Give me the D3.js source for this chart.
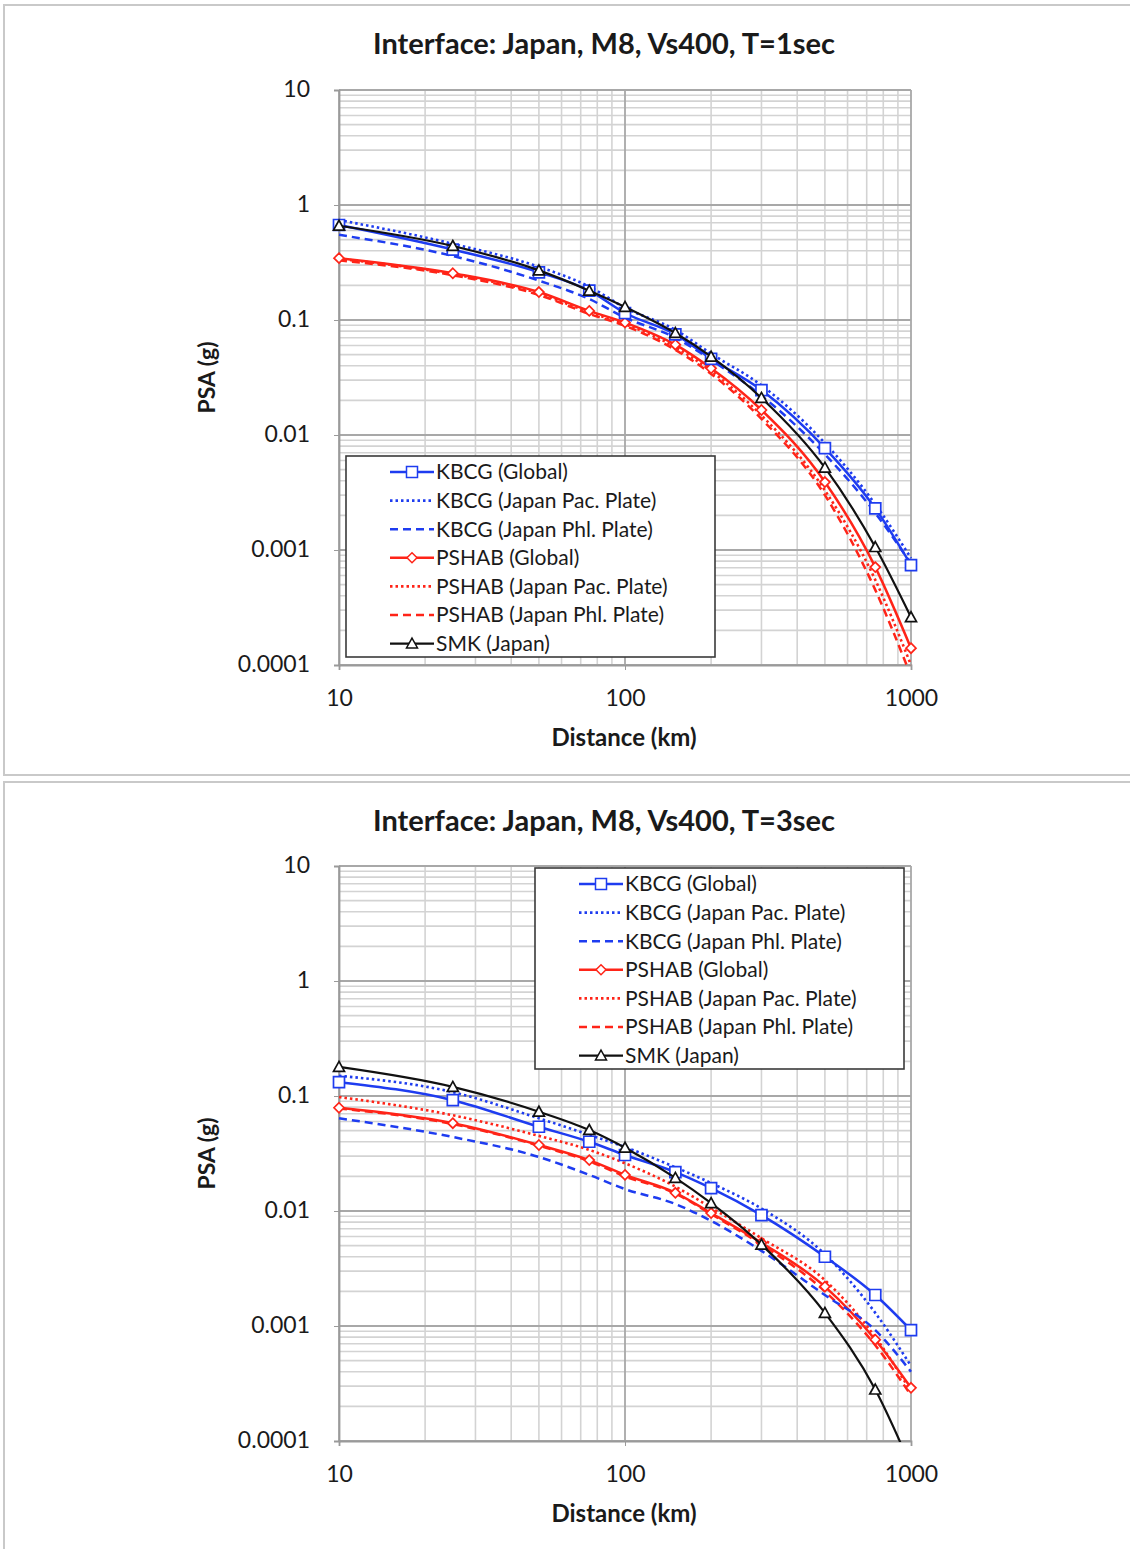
<!DOCTYPE html>
<html><head><meta charset="utf-8">
<script src="https://cdn.jsdelivr.net/npm/d3@7/dist/d3.min.js"></script>
<style>
body{margin:0;background:#fff;}
svg text{font-family:Lato,"Open Sans",sans-serif;fill:#1a1a1a;}
</style></head>
<body><svg id="c" width="1130" height="1549"></svg>
<script>
const distances = [10, 25, 50, 75, 100, 150, 200, 300, 500, 750, 1000];
const seriesNames = ["KBCG (Global)", "KBCG (Japan Pac. Plate)", "KBCG (Japan Phl. Plate)",
  "PSHAB (Global)", "PSHAB (Japan Pac. Plate)", "PSHAB (Japan Phl. Plate)", "SMK (Japan)"];
const yTickValues = [10, 1, 0.1, 0.01, 0.001, 0.0001];
const yTickLabels = ["10", "1", "0.1", "0.01", "0.001", "0.0001"];
const xTickValues = [10, 100, 1000];
const xTickLabels = ["10", "100", "1000"];
const titles = ["Interface: Japan, M8, Vs400, T=1sec", "Interface: Japan, M8, Vs400, T=3sec"];

// T = 1 sec
const kbcgGlobal1 = [0.67, 0.41, 0.26, 0.18, 0.115, 0.075, 0.046, 0.0246, 0.0077, 0.0023, 0.00074];
const kbcgPac1    = [0.74, 0.46, 0.29, 0.195, 0.128, 0.082, 0.051, 0.027, 0.0085, 0.0025, 0.00085];
const kbcgPhl1    = [0.55, 0.36, 0.22, 0.152, 0.105, 0.07, 0.045, 0.022, 0.0068, 0.0021, 0.00076];
const pshabGlobal1= [0.345, 0.255, 0.175, 0.12, 0.095, 0.061, 0.038, 0.0165, 0.0039, 0.00071, 0.00014];
const pshabPac1   = [0.34, 0.25, 0.17, 0.117, 0.092, 0.058, 0.036, 0.0148, 0.0033, 0.00055, 0.0001];
const pshabPhl1   = [0.33, 0.245, 0.165, 0.113, 0.089, 0.055, 0.034, 0.0138, 0.003, 0.00045, 0.00008];
const smk1        = [0.66, 0.44, 0.27, 0.18, 0.13, 0.077, 0.048, 0.021, 0.0052, 0.00106, 0.00026];

// T = 3 sec
const kbcgGlobal3 = [0.132, 0.092, 0.054, 0.040, 0.0307, 0.0218, 0.0158, 0.0092, 0.0040, 0.00186, 0.00092];
const kbcgPac3    = [0.15, 0.108, 0.064, 0.046, 0.036, 0.024, 0.0175, 0.0105, 0.0042, 0.0013, 0.00045];
const kbcgPhl3    = [0.064, 0.044, 0.0295, 0.0206, 0.0155, 0.0115, 0.0082, 0.0045, 0.00186, 0.00092, 0.0004];
const pshabGlobal3= [0.079, 0.058, 0.0375, 0.0277, 0.0206, 0.0144, 0.0096, 0.0053, 0.0022, 0.00076, 0.00029];
const pshabPac3   = [0.098, 0.068, 0.045, 0.034, 0.026, 0.0163, 0.0107, 0.0058, 0.0025, 0.0008, 0.00027];
const pshabPhl3   = [0.078, 0.057, 0.037, 0.027, 0.020, 0.0142, 0.0094, 0.0051, 0.0020, 0.00068, 0.00025];
const smk3        = [0.179, 0.12, 0.073, 0.0506, 0.0355, 0.0194, 0.0117, 0.0051, 0.0013, 0.00028, 0.00006];

const panelSeries = [
  [kbcgGlobal1, kbcgPac1, kbcgPhl1, pshabGlobal1, pshabPac1, pshabPhl1, smk1],
  [kbcgGlobal3, kbcgPac3, kbcgPhl3, pshabGlobal3, pshabPac3, pshabPhl3, smk3]
];

const BLUE = "#1e3cf0", RED = "#ff2418", BLACK = "#111";
const styles = [
  {color: BLUE, dash: null, marker: "square", w: 2.5},
  {color: BLUE, dash: "2.5,3", marker: null, w: 2.6},
  {color: BLUE, dash: "8,5", marker: null, w: 2.5},
  {color: RED, dash: null, marker: "diamond", w: 2.5},
  {color: RED, dash: "2.5,3", marker: null, w: 2.6},
  {color: RED, dash: "8,5", marker: null, w: 2.5},
  {color: BLACK, dash: null, marker: "triangle", w: 2.2}
];

const svg = d3.select("#c");
const layouts = [
  {top: 5, h: 770, plotTop: 90, legend: {x: 346, y: 456, w: 369, h: 201}},
  {top: 782, h: 780, plotTop: 866, legend: {x: 535, y: 868, w: 369, h: 201}}
];

function markerPath(type, cx, cy) {
  if (type === "square") { const s = 5.5; return `M${cx-s},${cy-s}h${2*s}v${2*s}h${-2*s}Z`; }
  if (type === "diamond") { const s = 5; return `M${cx},${cy-s}L${cx+s},${cy}L${cx},${cy+s}L${cx-s},${cy}Z`; }
  if (type === "triangle") { const s = 5.5; return `M${cx},${cy-s}L${cx+s},${cy+s*0.8}L${cx-s},${cy+s*0.8}Z`; }
  return "";
}

layouts.forEach((L, pi) => {
  const g = svg.append("g");
  g.append("rect").attr("x", 4).attr("y", L.top).attr("width", 1140).attr("height", L.h)
    .attr("fill", "none").attr("stroke", "#c9c9c9").attr("stroke-width", 2);

  const x = d3.scaleLog().domain([10, 1000]).range([339, 911]);
  const y = d3.scaleLog().domain([0.0001, 10]).range([L.plotTop + 575, L.plotTop]);

  const xMinor = [], yMinor = [];
  [10, 100].forEach(b => { for (let k = 2; k <= 9; k++) xMinor.push(b * k); });
  [0.0001, 0.001, 0.01, 0.1, 1].forEach(b => { for (let k = 2; k <= 9; k++) yMinor.push(b * k); });
  const grid = g.append("g");
  grid.selectAll(".xm").data(xMinor).join("line")
    .attr("x1", d => x(d)).attr("x2", d => x(d)).attr("y1", y(10)).attr("y2", y(0.0001))
    .attr("stroke", "#d3d3d3").attr("stroke-width", 1.6);
  grid.selectAll(".ym").data(yMinor).join("line")
    .attr("x1", x(10)).attr("x2", x(1000)).attr("y1", d => y(d)).attr("y2", d => y(d))
    .attr("stroke", "#d3d3d3").attr("stroke-width", 1.6);
  grid.selectAll(".xM").data(xTickValues).join("line")
    .attr("x1", d => x(d)).attr("x2", d => x(d)).attr("y1", y(10)).attr("y2", y(0.0001))
    .attr("stroke", "#a8a8a8").attr("stroke-width", 1.8);
  grid.selectAll(".yM").data(yTickValues).join("line")
    .attr("x1", x(10)).attr("x2", x(1000)).attr("y1", d => y(d)).attr("y2", d => y(d))
    .attr("stroke", "#a8a8a8").attr("stroke-width", 1.8);

  const yAxis = d3.axisLeft(y).tickValues(yTickValues).tickSize(5).tickPadding(24)
    .tickFormat((d, i) => yTickLabels[i]);
  const ya = g.append("g").attr("transform", `translate(${x(10)},0)`).call(yAxis);
  ya.select(".domain").attr("stroke", "#9a9a9a").attr("stroke-width", 1.8);
  ya.selectAll(".tick line").attr("stroke", "#9a9a9a");
  ya.selectAll("text").style("font-size", "23px").attr("fill", "#1a1a1a").attr("dy", "0.3em");

  const xAxis = d3.axisBottom(x).tickValues(xTickValues).tickSize(5).tickPadding(20)
    .tickFormat((d, i) => xTickLabels[i]);
  const xa = g.append("g").attr("transform", `translate(0,${y(0.0001)})`).call(xAxis);
  xa.select(".domain").attr("stroke", "#9a9a9a").attr("stroke-width", 1.8);
  xa.selectAll(".tick line").attr("stroke", "#9a9a9a");
  xa.selectAll("text").style("font-size", "23px").attr("fill", "#1a1a1a");

  g.append("text").attr("x", 604).attr("y", L.top + 49).attr("text-anchor", "middle")
    .style("font-size", "29px").style("font-weight", "bold").text(titles[pi]);
  g.append("text").attr("x", 624).attr("y", y(0.0001) + 81).attr("text-anchor", "middle")
    .style("font-size", "24px").style("font-weight", "bold").text("Distance (km)");
  g.append("text").attr("transform", `translate(215,${(y(10) + y(0.0001)) / 2}) rotate(-90)`)
    .attr("text-anchor", "middle").style("font-size", "23px").style("font-weight", "bold").text("PSA (g)");

  const clipId = "clip" + pi;
  svg.append("clipPath").attr("id", clipId).append("rect")
    .attr("x", x(10) - 8).attr("y", y(10)).attr("width", x(1000) - x(10) + 16).attr("height", y(0.0001) - y(10) + 1);

  const line = d3.line().x(d => x(d[0])).y(d => y(d[1])).curve(d3.curveMonotoneX);
  const plot = g.append("g").attr("clip-path", `url(#${clipId})`);
  const order = [5, 4, 3, 2, 1, 0, 6];
  order.forEach(si => {
    const st = styles[si];
    const pts = distances.map((dd, i) => [dd, panelSeries[pi][si][i]]);
    plot.append("path").attr("d", line(pts)).attr("fill", "none")
      .attr("stroke", st.color).attr("stroke-width", st.w)
      .attr("stroke-dasharray", st.dash).attr("stroke-linecap", "butt");
    if (st.marker) {
      plot.selectAll(null).data(pts.filter(p => p[1] >= 0.0001)).join("path")
        .attr("d", p => markerPath(st.marker, x(p[0]), y(p[1])))
        .attr("fill", "#fff").attr("stroke", st.color).attr("stroke-width", 1.7);
    }
  });

  const lg = L.legend;
  g.append("rect").attr("x", lg.x).attr("y", lg.y).attr("width", lg.w).attr("height", lg.h)
    .attr("fill", "#fff").attr("stroke", "#3a3a3a").attr("stroke-width", 1.6);
  seriesNames.forEach((name, i) => {
    const st = styles[i];
    const cy = lg.y + 16 + i * 28.6;
    const x0 = lg.x + 44, x1 = lg.x + 88;
    g.append("line").attr("x1", x0).attr("x2", x1).attr("y1", cy).attr("y2", cy)
      .attr("stroke", st.color).attr("stroke-width", st.w).attr("stroke-dasharray", st.dash);
    if (st.marker) g.append("path").attr("d", markerPath(st.marker, (x0 + x1) / 2, cy))
      .attr("fill", "#fff").attr("stroke", st.color).attr("stroke-width", 1.5);
    g.append("text").attr("x", x1 + 2).attr("y", cy).attr("dy", "0.35em")
      .style("font-size", "21px").text(name);
  });
});
</script></body></html>
